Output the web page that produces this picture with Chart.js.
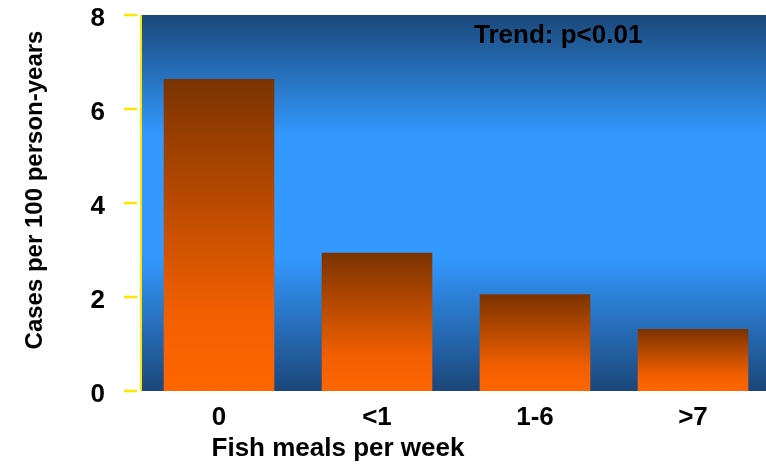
<!DOCTYPE html>
<html>
<head>
<meta charset="utf-8">
<script src="https://cdn.jsdelivr.net/npm/chart.js@4"></script>
<style>
  html, body { margin: 0; padding: 0; background: #ffffff; overflow: hidden; }
  #wrap { width: 772px; height: 465px; }
</style>
</head>
<body>
<div id="wrap"><canvas id="c" width="772" height="465"></canvas></div>
<script>
// Incidence by fish intake
const categories = ['0', '<1', '1-6', '>7'];
const casesPer100 = [6.64, 2.94, 2.06, 1.32];
const yTicks = [0, 2, 4, 6, 8];
const xTitle = 'Fish meals per week';
const yTitle = 'Cases per 100 person-years';
const trendNote = 'Trend: p<0.01';

const FONT = '"Liberation Sans", Arial, sans-serif';

// Blue band behind the plot, dark at the edges and bright in the middle
const plotBackground = {
  id: 'plotBackground',
  beforeDraw(chart) {
    const { ctx, chartArea: a } = chart;
    const g = ctx.createLinearGradient(0, a.top, 0, a.bottom);
    g.addColorStop(0, '#1b487a');
    g.addColorStop(0.32, '#3399ff');
    g.addColorStop(0.64, '#3399ff');
    g.addColorStop(1, '#1b467a');
    ctx.save();
    ctx.fillStyle = g;
    ctx.fillRect(a.left, a.top, a.right - a.left, a.bottom - a.top);
    ctx.restore();
  }
};

// Yellow axis line, tick marks, titles and the trend note
const decorations = {
  id: 'decorations',
  afterDraw(chart) {
    const { ctx, chartArea: a, scales } = chart;
    const y = scales.y;
    ctx.save();
    ctx.strokeStyle = '#ffe600';
    ctx.lineWidth = 2;
    ctx.beginPath();
    ctx.moveTo(a.left + 1, a.top);
    ctx.lineTo(a.left + 1, a.bottom);
    ctx.stroke();
    ctx.lineWidth = 2.5;
    yTicks.forEach(v => {
      const py = Math.round(y.getPixelForValue(v));
      ctx.beginPath();
      ctx.moveTo(a.left - 16, py);
      ctx.lineTo(a.left - 3, py);
      ctx.stroke();
    });

    ctx.fillStyle = '#000000';
    ctx.font = 'bold 26px ' + FONT;
    ctx.textAlign = 'left';
    ctx.textBaseline = 'middle';
    ctx.fillText(trendNote, 474, 36);

    ctx.textAlign = 'center';
    ctx.fillText(xTitle, 338, 449);

    ctx.font = 'bold 24px ' + FONT;
    ctx.translate(35, 190);
    ctx.rotate(-Math.PI / 2);
    ctx.fillText(yTitle, 0, 0);
    ctx.restore();
  }
};

function barGradient(context) {
  const chart = context.chart;
  const y = chart.scales && chart.scales.y;
  if (!y || context.dataIndex === undefined) return '#ff6600';
  const v = context.dataset.data[context.dataIndex];
  const top = y.getPixelForValue(v);
  const bottom = y.getPixelForValue(0);
  if (!isFinite(top) || !isFinite(bottom) || top === bottom) return '#ff6600';
  const g = chart.ctx.createLinearGradient(0, top, 0, bottom);
  g.addColorStop(0, '#7a3300');
  g.addColorStop(0.75, '#f25f00');
  g.addColorStop(1, '#ff6600');
  return g;
}

new Chart(document.getElementById('c'), {
  type: 'bar',
  data: {
    labels: categories,
    datasets: [{
      data: casesPer100,
      backgroundColor: barGradient,
      borderWidth: 0,
      barPercentage: 0.70,
      categoryPercentage: 1.0
    }]
  },
  options: {
    responsive: false,
    animation: false,
    layout: { padding: { top: 15, left: 0, right: 0, bottom: 0 } },
    plugins: { legend: { display: false }, tooltip: { enabled: false } },
    scales: {
      x: {
        grid: { display: false },
        border: { display: false },
        ticks: { color: '#000', font: { family: FONT, size: 26, weight: 'bold' }, padding: 3 },
        afterFit(s) { s.height = 74; s.paddingLeft = 0; s.paddingRight = 0; }
      },
      y: {
        min: 0, max: 8,
        grid: { display: false },
        border: { display: false },
        ticks: { stepSize: 2, color: '#000', font: { family: FONT, size: 26, weight: 'bold' }, padding: 27, labelOffset: 4 },
        afterFit(s) { s.width = 140; s.paddingTop = 0; s.paddingBottom = 0; }
      }
    }
  },
  plugins: [plotBackground, decorations]
});
</script>
</body>
</html>
